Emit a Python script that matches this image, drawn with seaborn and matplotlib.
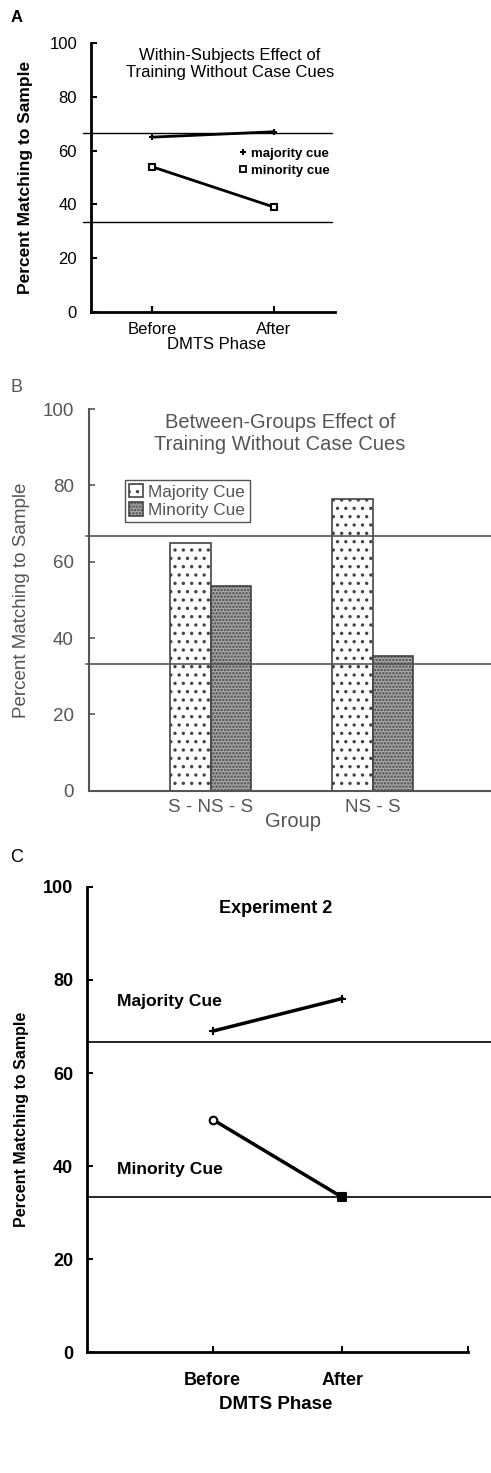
import pandas as pd
import matplotlib
matplotlib.use('Agg')
import matplotlib.pyplot as plt
from matplotlib.lines import Line2D
import seaborn as sns

sns.set_style('white', {'axes.edgecolor': 'black', 'text.color': 'black',
                        'axes.labelcolor': 'black', 'xtick.color': 'black',
                        'ytick.color': 'black'})
plt.rcParams['font.family'] = ['Liberation Sans', 'DejaVu Sans']
plt.rcParams['hatch.linewidth'] = 1.2

# data
phases = ['Before', 'After']

# A: within-subjects
a_majority = [65, 67]
a_minority = [54, 39]

# B: between-groups
groups = ['S - NS - S', 'NS - S']
b_majority = [65, 76.5]
b_minority = [53.7, 35.3]

# C: experiment 2
c_majority = [69, 76]
c_minority = [50, 33.3]

chance_lines = [66.7, 33.3]

dfa = pd.DataFrame({'phase': phases * 2,
                    'pct': a_majority + a_minority,
                    'cue': ['majority cue'] * 2 + ['minority cue'] * 2})
dfb = pd.DataFrame({'group': groups * 2,
                    'pct': b_majority + b_minority,
                    'cue': ['Majority Cue'] * 2 + ['Minority Cue'] * 2})
dfc = pd.DataFrame({'phase': phases * 2,
                    'pct': c_majority + c_minority,
                    'cue': ['Majority Cue'] * 2 + ['Minority Cue'] * 2,
                    'mark': ['plus', 'plus', 'circle', 'square']})

W, H = 491, 1473
fig = plt.figure(figsize=(W / 100, H / 100), dpi=100)


def box(left, right, top, bottom):
    return [left / W, 1 - bottom / H, (right - left) / W, (bottom - top) / H]


# ---------------- A ----------------
ax = fig.add_axes(box(91, 335, 43, 312))
for cue, m in [('majority cue', '+'), ('minority cue', 's')]:
    sns.lineplot(data=dfa[dfa['cue'] == cue], x='phase', y='pct', marker=m,
                 color='black', lw=2, ms=5, mew=1.5, markerfacecolor='white',
                 markeredgecolor='black', legend=False, ax=ax)
for v in chance_lines:
    ax.axhline(v, xmin=-0.033, xmax=0.988, color='black', lw=1, clip_on=False)
ax.set_xlim(-0.5, 1.5)
ax.set_ylim(0, 100)
ax.set_yticks(range(0, 101, 20))
ax.set_xticks([0, 1], phases)
sns.despine(ax=ax)
for s in ['left', 'bottom']:
    ax.spines[s].set_linewidth(2)
ax.tick_params(bottom=True, left=True, direction='in', length=4, width=1.5,
               labelsize=12, colors='black')
ax.tick_params(axis='y', pad=10)
ax.tick_params(axis='x', pad=7)
ax.set_ylabel('Percent Matching to Sample', fontsize=12.5, fontweight='bold')
ax.yaxis.label.set_va('center')
ax.yaxis.set_label_coords(-0.27, 0.5)
ax.set_xlabel('DMTS Phase', fontsize=12)
ax.xaxis.set_label_coords(0.516, -0.093)
ax.text(0.57, 0.922, 'Within-Subjects Effect of\nTraining Without Case Cues',
        transform=ax.transAxes, ha='center', va='center', fontsize=12)
hands = [Line2D([], [], ls='none', marker='+', color='black', ms=5, mew=1.5),
         Line2D([], [], ls='none', marker='s', color='black', ms=4, mew=1.3,
                markerfacecolor='white')]
ax.legend(hands, ['majority cue', 'minority cue'], loc='upper left',
          bbox_to_anchor=(0.585, 0.63), frameon=False, handlelength=0.6,
          handletextpad=0.3, labelspacing=0.35, borderaxespad=0,
          prop={'size': 9.5, 'weight': 'bold'})
fig.text(17 / W, 1 - 18 / H, 'A', fontsize=12, fontweight='bold', ha='center', va='center')

# ---------------- B ----------------
gray = '#555555'
ax = fig.add_axes(box(89, 491, 409, 790.7))
sns.barplot(data=dfb, x='group', y='pct', hue='cue', width=0.5,
            palette=['white', '#a8a8a8'], edgecolor='#444444', linewidth=1.2,
            legend=False, ax=ax)
hatches = ['..', '.....']
for cont, h in zip(ax.containers, hatches):
    for bar in cont:
        bar.set_hatch(h)
for v in chance_lines:
    ax.axhline(v, xmin=-0.007, xmax=1, color=gray, lw=1.2, clip_on=False)
ax.set_xlim(-0.75, 1.73)
ax.set_ylim(0, 100)
ax.set_yticks(range(0, 101, 20))
sns.despine(ax=ax)
for s in ['left', 'bottom']:
    ax.spines[s].set_linewidth(1.5)
    ax.spines[s].set_color(gray)
ax.tick_params(axis='y', left=True, direction='in', length=4, width=1.2,
               labelsize=13.5, colors=gray, pad=11)
ax.tick_params(axis='x', length=0, labelsize=13.5, colors=gray, pad=6)
ax.set_ylabel('Percent Matching to Sample', fontsize=13.5, color=gray)
ax.yaxis.label.set_va('center')
ax.yaxis.set_label_coords(-0.167, 0.5)
ax.set_xlabel('Group', fontsize=14.5, color=gray)
ax.xaxis.set_label_coords(0.507, -0.056)
ax.text(0.475, 0.937, 'Between-Groups Effect of\nTraining Without Case Cues',
        transform=ax.transAxes, ha='center', va='center', fontsize=14.5, color=gray)
ax.legend([cont[0] for cont in ax.containers], ['Majority Cue', 'Minority Cue'],
          loc='upper left', bbox_to_anchor=(0.09, 0.814), borderaxespad=0,
          fancybox=False, edgecolor=gray, framealpha=1, handlelength=0.8,
          handleheight=0.8, handletextpad=0.3, labelspacing=0.15, borderpad=0.25,
          prop={'size': 12.4}, labelcolor=gray)
fig.text(17 / W, 1 - 388 / H, 'B', fontsize=13, color=gray, ha='center', va='center')

# ---------------- C ----------------
ax = fig.add_axes(box(87, 468, 886.8, 1352.3))
for cue in ['Majority Cue', 'Minority Cue']:
    sns.lineplot(data=dfc[dfc['cue'] == cue], x='phase', y='pct',
                 color='black', lw=2.5, legend=False, ax=ax)
mk = {'plus': ('+', 'black'), 'circle': ('o', 'white'), 'square': ('s', 'black')}
for kind, (m, fc) in mk.items():
    sns.scatterplot(data=dfc[dfc['mark'] == kind], x='phase', y='pct', marker=m,
                    s=30 if kind != 'plus' else 40, facecolor=fc, edgecolor='black',
                    linewidth=1.5, legend=False, ax=ax, zorder=3)
for v in chance_lines:
    ax.axhline(v, xmin=0, xmax=1.06, color='black', lw=1.2, clip_on=False)
ax.set_xlim(-0.97, 1.97)
ax.set_ylim(0, 100)
ax.set_yticks(range(0, 101, 20))
ax.set_xticks([0, 1, 1.97], phases + [''])
sns.despine(ax=ax)
for s in ['left', 'bottom']:
    ax.spines[s].set_linewidth(2)
ax.tick_params(bottom=True, left=True, direction='in', length=4, width=1.5,
               labelsize=13, colors='black')
ax.tick_params(axis='y', pad=10)
ax.tick_params(axis='x', pad=14)
for lab in ax.get_xticklabels() + ax.get_yticklabels():
    lab.set_fontweight('bold')
ax.set_ylabel('Percent Matching to Sample', fontsize=11.5, fontweight='bold')
ax.yaxis.label.set_va('center')
ax.yaxis.set_label_coords(-0.171, 0.5)
ax.set_xlabel('DMTS Phase', fontsize=13.5, fontweight='bold')
ax.xaxis.set_label_coords(0.496, -0.094)
ax.text(0.496, 0.954, 'Experiment 2', transform=ax.transAxes, ha='center',
        va='center', fontsize=13, fontweight='bold')
ax.text(0.079, 0.753, 'Majority Cue', transform=ax.transAxes, ha='left',
        va='center', fontsize=12.6, fontweight='bold')
ax.text(0.079, 0.392, 'Minority Cue', transform=ax.transAxes, ha='left',
        va='center', fontsize=12.6, fontweight='bold')
fig.text(17 / W, 1 - 857 / H, 'C', fontsize=13, ha='center', va='center')

fig.savefig('out.png', dpi=100)
